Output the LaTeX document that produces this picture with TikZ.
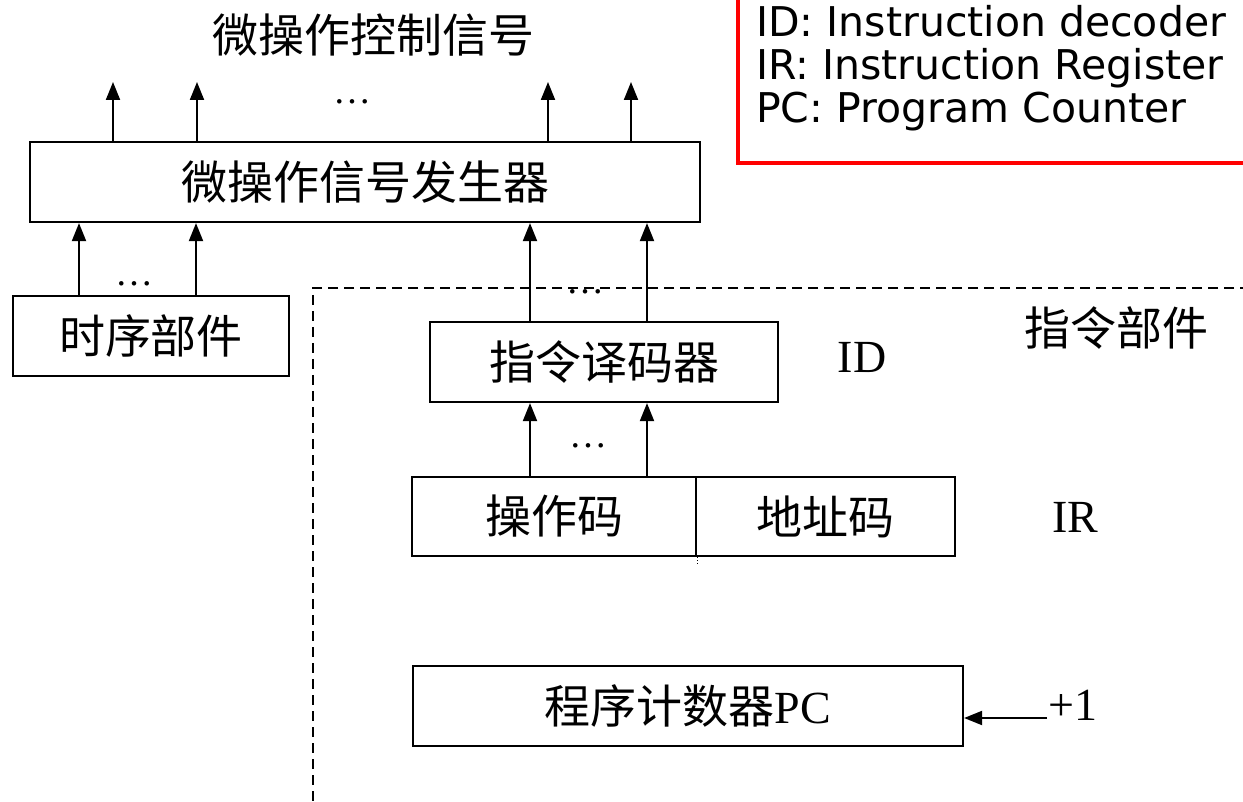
\documentclass[tikz,border=0pt]{standalone}
\usepackage{fontspec}
\setmainfont{Liberation Serif}
\newfontfamily\cjk{Noto Sans CJK SC}
\newfontfamily\legendfont{DejaVu Sans}
\usetikzlibrary{arrows.meta}
\newcommand\bigsz{\fontsize{46}{50}\selectfont}
\begin{document}
\begin{tikzpicture}[x=1pt,y=-1pt,
  box/.style={draw, line width=2.2pt, rectangle, inner sep=0pt, minimum height=80pt, font=\cjk\bigsz},
  arr/.style={line width=2pt, -{Triangle[length=18pt,width=14pt]}},
  lbl/.style={font=\bigsz, inner sep=0pt},
  cjklbl/.style={font=\cjk\bigsz, inner sep=0pt},
  dots/.style={font=\fontsize{38}{40}\selectfont, inner sep=0pt},
  legend/.style={font=\legendfont\fontsize{41}{44}\selectfont, inner sep=0pt, anchor=base west},
  frame/.style={draw=red, line width=3.5pt}]
\useasboundingbox (0,0) rectangle (1243,802);

% legend
\draw[frame] (738,-5) -- (738,163) -- (1250,163);
\node[legend] (l1) at (756,37) {ID: Instruction decoder};
\node[legend] (l2) at (756,80) {IR: Instruction Register};
\node[legend] (l3) at (756,123) {PC: Program Counter};

% title
\node[cjklbl] (title) at (373,35) {微操作控制信号};

% boxes
\node[box, minimum width=670pt] (micro) at (365,182) {微操作信号发生器};
\node[box, minimum width=276pt] (ts) at (151,336) {时序部件};
\node[box, minimum width=348pt] (idb) at (604,362) {指令译码器};
\node[box, minimum width=284pt, minimum height=79pt] (op) at (554,516.5) {操作码};
\node[box, minimum width=259pt, minimum height=79pt] (ad) at (825.5,516.5) {地址码};
\node[box, minimum width=550pt] (pc) at (688,706) {程序计数器{\rmfamily PC}};

% dashed instruction unit frame
\coordinate (dA) at (1250,288);
\coordinate (dB) at (313,288);
\coordinate (dC) at (313,810);
\draw[line width=2pt, dash pattern=on 10pt off 6pt] (dA) -- (dB) -- (dC);

% labels
\node[lbl] (idl) at (862,357) {ID};
\node[lbl] (irl) at (1075,517) {IR};
\node[lbl] (plus) at (1073,705) {+1};
\node[cjklbl] (unit) at (1116,328) {指令部件};

% dots
\node[dots] (d1) at (352,102) {…};
\node[dots] (d2) at (134,284) {…};
\node[dots] (d3) at (585,292) {…};
\node[dots] (d4) at (588,446) {…};

% top output arrows
\coordinate (t1) at (113,82);
\coordinate (t2) at (197,82);
\coordinate (t3) at (548,82);
\coordinate (t4) at (631,82);
\foreach \t in {t1,t2,t3,t4} \draw[arr] (micro.north -| \t) -- (\t);

% timing -> micro
\coordinate (xa) at (79,0);
\coordinate (xb) at (196,0);
\draw[arr] (ts.north -| xa) -- (micro.south -| xa);
\draw[arr] (ts.north -| xb) -- (micro.south -| xb);

% decoder -> micro
\coordinate (xc) at (530,0);
\coordinate (xd) at (647,0);
\draw[arr] (idb.north -| xc) -- (micro.south -| xc);
\draw[arr] (idb.north -| xd) -- (micro.south -| xd);

% opcode -> decoder
\draw[arr] (op.north -| xc) -- (idb.south -| xc);
\draw[arr] (op.north -| xd) -- (idb.south -| xd);

% divider tail
\draw[dotted, line width=1pt] (op.south east) -- ++(0,8);

% +1 -> PC
\coordinate (pa) at (1047,718);
\draw[arr] (pa) -- (pa -| pc.east);
\end{tikzpicture}
\end{document}
